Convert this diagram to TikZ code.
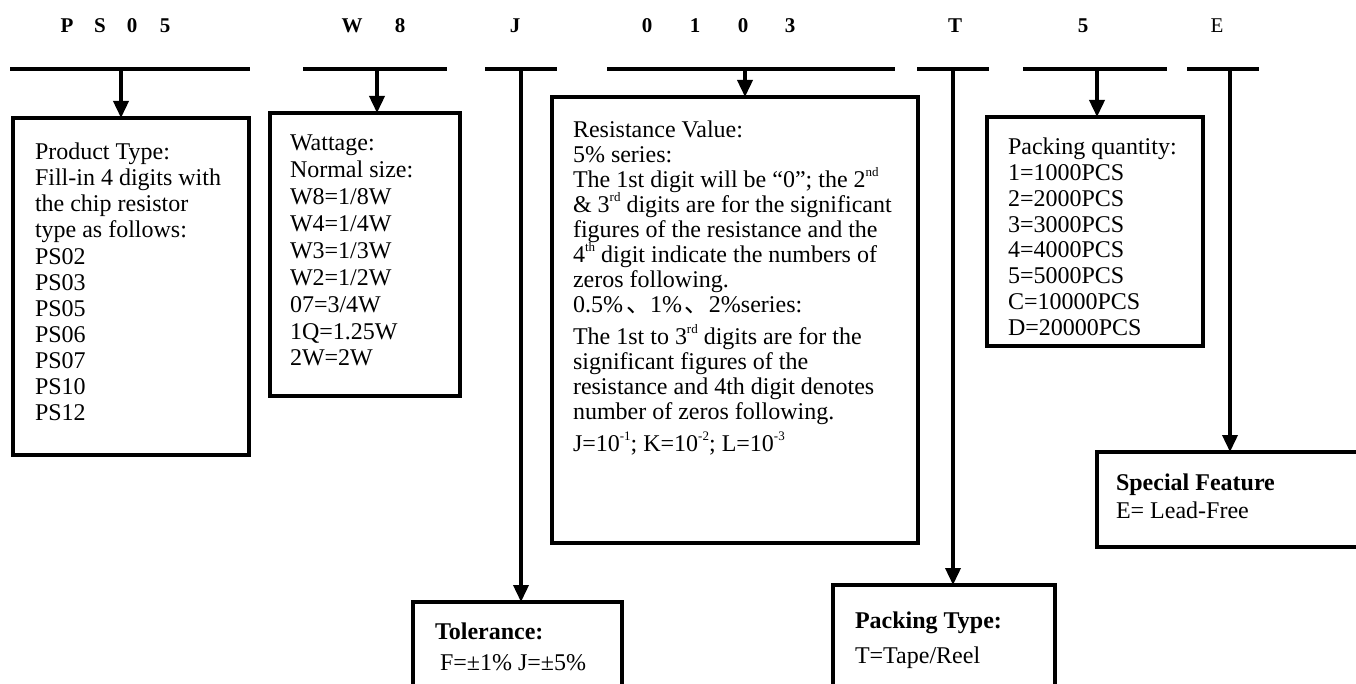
\documentclass[tikz,border=0pt]{standalone}
\usepackage{fontspec}
\setmainfont{Liberation Serif}
\newfontfamily\cjk{Noto Sans CJK SC}
\usepackage{tikz}
\usetikzlibrary{arrows.meta, positioning}
\newcommand{\boxfont}[1]{\fontsize{24}{#1}\selectfont}
\newcommand{\headfont}{\fontsize{21}{21}\selectfont\bfseries}
\newcommand{\sups}[1]{\raisebox{0.45em}{\fontsize{13}{13}\selectfont #1}}
\newcommand{\btext}[3]{\parbox[t][#2][t]{#1}{\raggedright #3}}
\newcommand{\dunhao}{\hspace{3pt}{\cjk 、}}

\begin{document}
\begin{tikzpicture}[x=1pt, y=-1pt,
        box/.style={draw, line width=3.5pt, anchor=north west, outer sep=0pt, inner xsep=21pt, inner ysep=21pt, font=\boxfont{25.8pt}},
        head/.style={font=\headfont, inner sep=0pt},
        bar/.style={line width=4pt},
        line/.style={line width=3.6pt, -{Triangle[width=15pt, length=17pt]}},
        link/.style={line width=3.6pt}]

    \useasboundingbox (0,0) rectangle (1356,684);
    \fill [white] (0,0) rectangle (1356,684);

    % part number, one letter per field position
    \node [head] (hP) at (67,26) {P};
    \node [head] (hS) at (100,26) {S};
    \node [head] (hA) at (132,26) {0};
    \node [head] (hB) at (165,26) {5};
    \node [head] (hW) at (352,26) {W};
    \node [head] (hC) at (400,26) {8};
    \node [head] (hJ) at (515,26) {J};
    \node [head] (hD) at (647,26) {0};
    \node [head] (hE) at (695,26) {1};
    \node [head] (hF) at (743,26) {0};
    \node [head] (hG) at (790,26) {3};
    \node [head] (hT) at (955,26) {T};
    \node [head] (hH) at (1083,26) {5};
    \node [head, font=\fontsize{21}{21}\selectfont] (hL) at (1217,26) {E};

    % underlines
    \draw [bar] (10,69) -- (250,69);
    \draw [bar] (303,69) -- (447,69);
    \draw [bar] (485,69) -- (557,69);
    \draw [bar] (607,69) -- (895,69);
    \draw [bar] (917,69) -- (989,69);
    \draw [bar] (1023,69) -- (1167,69);
    \draw [bar] (1187,69) -- (1259,69);

    \coordinate (sType) at (121,69);
    \coordinate (sWatt) at (377,69);
    \coordinate (sTol) at (521,69);
    \coordinate (sRes) at (745,69);
    \coordinate (sPack) at (953,69);
    \coordinate (sQty) at (1097,69);
    \coordinate (sFeat) at (1230,69);

    % description boxes
    \node [box, inner xsep=22pt, inner ysep=25pt, font=\boxfont{26.1pt}] (type) at (13,118) {\btext{192pt}{287pt}{Product Type:\\Fill-in 4 digits with\\the chip resistor\\type as follows:\\PS02\\PS03\\PS05\\PS06\\PS07\\PS10\\PS12}};

    \node [box, inner xsep=20pt, inner ysep=22pt, font=\boxfont{26.9pt}] (watt) at (270,113) {\btext{150pt}{239pt}{Wattage:\\Normal size:\\W8=1/8W\\W4=1/4W\\W3=1/3W\\W2=1/2W\\07=3/4W\\1Q=1.25W\\2W=2W}};

    \node [box, inner ysep=24pt, font=\boxfont{25pt}] (res) at (552,97) {\btext{324pt}{398pt}{Resistance Value:\\
        5\% series:\\
        The 1st digit will be “0”; the 2\sups{nd}\\
        \& 3\sups{rd} digits are for the significant\\
        figures of the resistance and the\\
        4\sups{th} digit indicate the numbers of\\
        zeros following.\\
        0.5\%\dunhao 1\%\dunhao 2\%series:\\[7pt]
        The 1st to 3\sups{rd} digits are for the\\
        significant figures of the\\
        resistance and 4th digit denotes\\
        number of zeros following.\\[7pt]
        J=10\sups{-1}; K=10\sups{-2}; L=10\sups{-3}}};

    \node [box, inner ysep=21pt] (qty) at (987,117) {\btext{174pt}{187pt}{Packing quantity:\\1=1000PCS\\2=2000PCS\\3=3000PCS\\4=4000PCS\\5=5000PCS\\C=10000PCS\\D=20000PCS}};

    \node [box, inner xsep=22pt] (tol) at (413,602) {\btext{165pt}{88pt}{\textbf{Tolerance:}\\[5pt]\hspace*{5pt}F=±1\% J=±5\%}};

    \node [box, inner xsep=22pt, inner ysep=27pt] (pack) at (833,585) {\btext{178pt}{76pt}{\textbf{Packing Type:}\\[9pt]T=Tape/Reel}};

    \node [box, inner xsep=19pt, inner ysep=22pt] (feat) at (1097,452) {\btext{250pt}{51pt}{\textbf{Special Feature}\\[2pt]E= Lead-Free}};

    % connectors
    \draw [line] (sType) -- (sType |- type.north);
    \draw [line] (sWatt) -- (sWatt |- watt.north);
    \draw [line] (sTol) -- (sTol |- tol.north);
    \draw [line] (sRes) -- (sRes |- res.north);
    \draw [line] (sPack) -- (sPack |- pack.north);
    \draw [line] (sQty) -- (sQty |- qty.north);
    \draw [line] (sFeat) -- (sFeat |- feat.north);
\end{tikzpicture}
\end{document}
